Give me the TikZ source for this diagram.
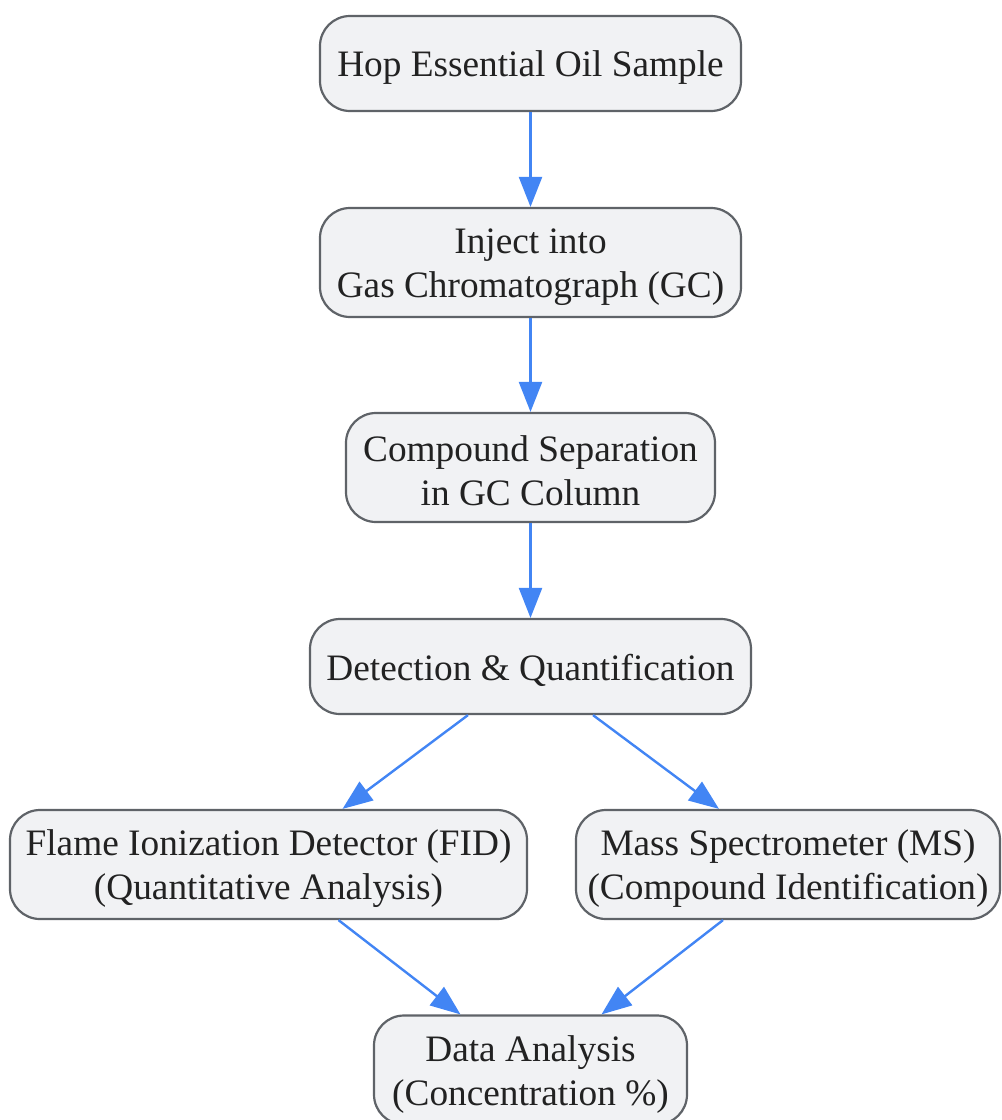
\documentclass[tikz,border=0pt]{standalone}
\usepackage{fontspec}
\setmainfont{Liberation Serif}
\usetikzlibrary{arrows.meta,calc}
\definecolor{boxfill}{HTML}{F1F2F4}
\definecolor{boxline}{HTML}{5F6368}
\definecolor{arrowblue}{HTML}{4285F4}
\definecolor{txt}{HTML}{222222}
\newcommand{\mystrut}{\rule[-2.4pt]{0pt}{36.4pt}}
\begin{document}
\begin{tikzpicture}[x=1pt,y=-1pt,
  procbox/.style={draw=boxline, fill=boxfill, line width=2.2pt, rounded corners=30pt,
    inner sep=0pt, align=center, text=txt, font=\fontsize{37.3}{44}\selectfont},
  flow/.style={draw=arrowblue, line width=2.4pt, -{Triangle[length=30pt,width=23pt]}}]
\useasboundingbox (0,0) rectangle (1002,1120);
\node[procbox, minimum width=421pt, minimum height=95pt] (b1) at (530.5,63.5) {\mystrut Hop Essential Oil Sample};
\node[procbox, minimum width=421pt, minimum height=109pt] (b2) at (530.5,262.5) {\mystrut Inject into\\\mystrut Gas Chromatograph (GC)};
\node[procbox, minimum width=369pt, minimum height=109pt] (b3) at (530.5,467.5) {\mystrut Compound Separation\\\mystrut in GC Column};
\node[procbox, minimum width=441pt, minimum height=95pt] (b4) at (530.5,666.5) {\mystrut Detection \& Quantification};
\node[procbox, minimum width=517pt, minimum height=109pt] (b5) at (268.5,864.5) {\mystrut Flame Ionization Detector (FID)\\\mystrut (Quantitative Analysis)};
\node[procbox, minimum width=424pt, minimum height=109pt] (b6) at (788,864.5) {\mystrut Mass Spectrometer (MS)\\\mystrut (Compound Identification)};
\node[procbox, minimum width=313pt, minimum height=109pt] (b7) at (530.5,1070) {\mystrut Data Analysis\\\mystrut (Concentration \%)};
\coordinate (b4l) at ($(b4.south)+(-62.5,0)$);
\coordinate (b4r) at ($(b4.south)+(62.5,0)$);
\coordinate (b5t) at ($(b5.north)+(74,0)$);
\coordinate (b6t) at ($(b6.north)+(-69,0)$);
\coordinate (b5b) at ($(b5.south)+(70,0)$);
\coordinate (b6b) at ($(b6.south)+(-65,0)$);
\coordinate (b7l) at ($(b7.north)+(-70,0)$);
\coordinate (b7r) at ($(b7.north)+(71,0)$);
\draw[flow] (b1) -- (b2);
\draw[flow] (b2) -- (b3);
\draw[flow] (b3) -- (b4);
\draw[flow] (b4l) -- (b5t);
\draw[flow] (b4r) -- (b6t);
\draw[flow] (b5b) -- (b7l);
\draw[flow] (b6b) -- (b7r);
\end{tikzpicture}
\end{document}
